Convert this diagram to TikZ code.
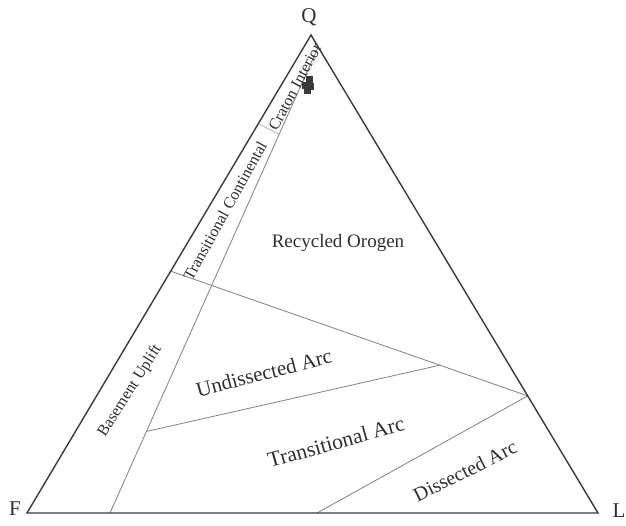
\documentclass[tikz,border=0pt]{standalone}
\usepackage{fontspec}
\setmainfont{Liberation Serif}
\usepackage{tikz}
\usetikzlibrary{calc}
\definecolor{qflline}{HTML}{3A3A3A}
\definecolor{qflgrey}{HTML}{808080}
\definecolor{qfltext}{HTML}{2E2E2E}
\tikzset{
  pole/.style={font=\fontsize{21}{21}\selectfont, qfltext, inner sep=0pt},
  field/.style={font=\fontsize{20}{20}\selectfont, qfltext, inner sep=0pt},
  strip/.style={font=\fontsize{16}{16}\selectfont, qfltext, inner sep=0pt},
  border/.style={draw=qflgrey, line width=0.8pt},
}

\begin{document}
\begin{tikzpicture}[x=1pt,y=-1pt]
  \useasboundingbox (0,0) rectangle (626,525);
  \coordinate (F) at (27,513);
  \coordinate (L) at (598,513);
  \coordinate (Q) at (311,35);
  \coordinate (innerbase) at (110,513);
  \coordinate (innertop) at ($(Q)!0.025!(L)$);
  \coordinate (roleft) at ($(F)!0.506!(Q)$);
  \coordinate (roright) at ($(L)!0.245!(Q)$);
  \coordinate (arcleft) at ($(innerbase)!0.175!(innertop)$);
  \coordinate (arcright) at ($(roleft)!0.754!(roright)$);
  \coordinate (dissbase) at (317,513);
  \coordinate (cratleft) at ($(F)!0.815!(Q)$);
  \coordinate (cratright) at ($(innerbase)!0.812!(innertop)$);

  \draw[border] (innerbase) -- (innertop);
  \draw[border] (roleft) -- (roright);
  \draw[border] (arcleft) -- (arcright);
  \draw[border] (dissbase) -- (roright);
  \draw[border, qflgrey!60] (cratleft) -- (cratright);
  \draw[qflline, line width=1.4pt, line join=miter] (F) -- (L) -- (Q) -- cycle;

  \foreach \px/\py in {309/79, 305/85, 310/86, 307/90}{
    \fill[qflline] (\px-3.5,\py-3.5) rectangle (\px+3.5,\py+3.5);
  }

  \node[pole] (qlabel) at (309,17) {Q};
  \node[pole] (flabel) at (15,509) {F};
  \node[pole] (llabel) at (619,511) {L};

  \node[field, font=\fontsize{19}{19}\selectfont] (recycled) at (338,243) {Recycled Orogen};
  \node[field, font=\fontsize{21}{21}\selectfont, rotate=14.5] (undissected) at (264,373) {Undissected Arc};
  \node[field, font=\fontsize{21.5}{21.5}\selectfont, rotate=15.5] (transarc) at (336,442) {Transitional Arc};
  \node[field, rotate=26.5] (dissected) at (465,471) {Dissected Arc};
  \node[strip, rotate=57.5] (basement) at (130,391) {Basement Uplift};
  \node[strip, rotate=61] (transcont) at (225,211) {Transitional Continental};
  \node[strip, rotate=62] (craton) at (295,87) {Craton Interior};
\end{tikzpicture}
\end{document}
